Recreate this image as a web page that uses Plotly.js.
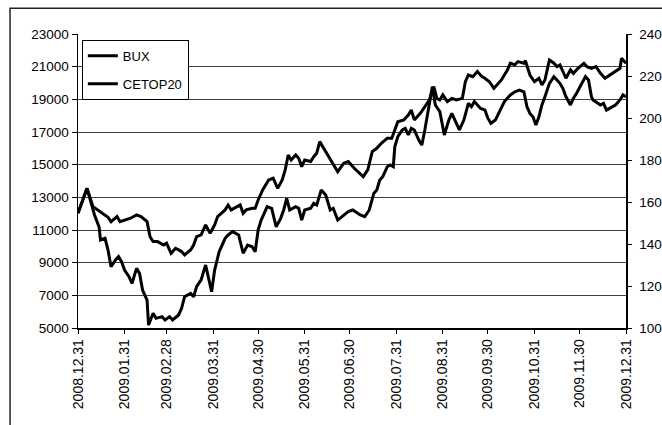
<!DOCTYPE html>
<html>
<head>
<meta charset="utf-8">
<script src="https://cdn.plot.ly/plotly-3.0.1.min.js"></script>
<style>
html,body{margin:0;padding:0;background:#fff;}
#chart{width:662px;height:425px;}
</style>
</head>
<body>
<div id="chart"></div>
<script>
// Day offsets from 2008.12.31
const buxDays = [0,6,10,16,20,22,26,28,31,35,39,42,46,48,50,53,57,59,62,65,67,69,71,75,77,79,82,85,88,91,93,98,100,102,106,108,110,112,116,118,120,123,127,130,133,136,138,140,142,145,147,149,151,155,157,159,161,163,167,170,173,177,180,184,188,190,193,196,199,202,206,209,211,213,217,220,222,224,228,231,234,237,239,241,243,246,249,252,256,258,260,263,266,269,271,274,277,279,282,286,288,291,293,297,298,301,304,307,309,311,314,317,319,321,323,325,328,330,333,337,339,342,345,348,351,354,358,361,362,365];
const buxValues = [12040,13550,12430,12020,11780,11510,11820,11510,11610,11720,11920,11820,11510,10590,10290,10290,10080,10190,9570,9880,9780,9680,9470,9780,10080,10590,10700,11310,10800,11310,11820,12230,12530,12230,12430,12530,12020,12230,12330,12330,12840,13450,14060,14170,13550,14060,14680,15590,15290,15590,15390,14880,15290,15190,15490,15700,16410,16110,15490,14980,14570,15090,15190,14780,14470,14270,14680,15800,16000,16310,16620,16620,17120,17630,17740,18040,18350,17740,18150,18550,18960,19780,19060,18960,19270,18860,19060,18960,19060,20080,20490,20390,20700,20390,20290,20080,19680,19880,20190,20800,21210,21110,21310,21210,21370,20490,20080,20290,19880,20190,21410,21210,21000,21110,20700,20290,20800,20590,20900,21210,21000,20900,21000,20590,20290,20490,20700,20900,21510,21210];

const cetopDays = [0,6,11,14,15,18,20,22,25,27,29,31,34,36,39,41,43,46,47,50,52,56,58,61,63,67,69,71,75,77,79,82,85,87,89,91,94,98,100,103,107,110,113,116,118,120,122,126,129,132,135,137,139,141,145,147,149,151,155,157,159,162,165,168,170,173,177,180,183,188,191,194,197,199,201,203,206,208,210,211,213,216,218,220,222,224,227,229,231,233,236,238,241,244,247,249,252,254,257,260,262,264,268,271,273,275,278,281,284,288,291,294,297,299,301,303,305,307,309,311,314,317,319,321,323,325,328,330,332,335,338,340,342,343,345,348,350,352,354,358,361,363,365];
const cetopValues = [1546,1665,1538,1482,1419,1427,1371,1292,1324,1340,1316,1276,1244,1213,1284,1260,1181,1133,1014,1070,1046,1054,1038,1054,1038,1062,1094,1149,1165,1149,1197,1229,1300,1229,1173,1276,1363,1427,1443,1459,1443,1356,1395,1387,1363,1467,1514,1578,1570,1482,1522,1562,1617,1562,1578,1570,1514,1562,1570,1594,1586,1657,1633,1562,1570,1514,1538,1554,1562,1538,1530,1562,1641,1657,1705,1721,1768,1776,1768,1863,1911,1943,1951,1919,1951,1943,1895,1871,1943,2030,2149,2062,2030,1919,1990,2022,1975,1943,1990,2070,2054,2078,2046,2038,1999,1975,1990,2038,2078,2110,2125,2133,2125,2054,2022,2006,1967,2006,2062,2101,2165,2197,2181,2165,2141,2101,2062,2094,2117,2157,2197,2181,2101,2086,2078,2062,2070,2038,2046,2062,2086,2110,2101];

const tickDays = [0,31,59,90,120,151,181,212,243,273,304,334,365];
const tickLabels = ["2008.12.31","2009.01.31","2009.02.28","2009.03.31","2009.04.30","2009.05.31","2009.06.30","2009.07.31","2009.08.31","2009.09.30","2009.10.31","2009.11.30","2009.12.31"];
const leftTicks = [5000,7000,9000,11000,13000,15000,17000,19000,21000,23000];
const leftLabels = ["5000","7000","9000","11000","13000","15000","17000","19000","21000","23000"];
const rightTicks = [1000,1200,1400,1600,1800,2000,2200,2400];
const rightLabels = ["1000","1200","1400","1600","1800","2000","2200","2400"];

const FF = "Liberation Sans, Arial, sans-serif";

const traces = [
  {x: buxDays, y: buxValues, name: "BUX", type: "scatter", mode: "lines",
   line: {color: "#000", width: 3}, legendgroup: "a", yaxis: "y"},
  {x: cetopDays, y: cetopValues, name: "CETOP20", type: "scatter", mode: "lines",
   line: {color: "#000", width: 3}, legendgroup: "b", yaxis: "y2"}
];

const layout = {
  width: 662, height: 425,
  margin: {l: 78, r: 36, t: 34, b: 97, pad: 0},
  paper_bgcolor: "#fff", plot_bgcolor: "#fff",
  font: {family: FF, size: 13.5, color: "#000"},
  showlegend: true,
  legend: {x: 0.007, y: 0.98, xanchor: "left", yanchor: "top",
    bgcolor: "#fff", bordercolor: "#000", borderwidth: 1,
    font: {family: FF, size: 13, color: "#000"},
    traceorder: "grouped", tracegroupgap: 8},
  xaxis: {type: "linear", range: [0, 365], tickmode: "array", tickvals: tickDays, ticktext: tickLabels,
    tickangle: -90, ticks: "outside", ticklen: 4, tickcolor: "#000",
    showgrid: false, zeroline: false, showline: true, linecolor: "#000", linewidth: 1.5,
    tickfont: {family: FF, size: 14, color: "#000"},
    automargin: false, fixedrange: true},
  yaxis: {range: [5000, 23000], tickmode: "array", tickvals: leftTicks, ticktext: leftLabels,
    ticks: "outside", ticklen: 5, tickcolor: "#000",
    showgrid: true, gridcolor: "#404040", gridwidth: 1, zeroline: false,
    showline: true, linecolor: "#000", linewidth: 1.5,
    tickfont: {family: FF, size: 13.5, color: "#000"},
    automargin: false, fixedrange: true},
  yaxis2: {range: [1000, 2400], tickmode: "array", tickvals: rightTicks, ticktext: rightLabels,
    overlaying: "y", side: "right",
    ticks: "outside", ticklen: 4, tickcolor: "#000", ticklabelstandoff: 5,
    showgrid: false, zeroline: false, showline: true, linecolor: "#000", linewidth: 1.5,
    tickfont: {family: FF, size: 13.5, color: "#000"},
    automargin: false, fixedrange: true},
  shapes: [
    {type: "rect", xref: "paper", yref: "paper", x0: -0.124, x1: 1.3, y0: -0.5, y1: 1.088,
     line: {color: "#222", width: 1.5}, fillcolor: "rgba(0,0,0,0)", layer: "below"}
  ]
};

Plotly.newPlot("chart", traces, layout, {staticPlot: true, displayModeBar: false});
</script>
</body>
</html>
